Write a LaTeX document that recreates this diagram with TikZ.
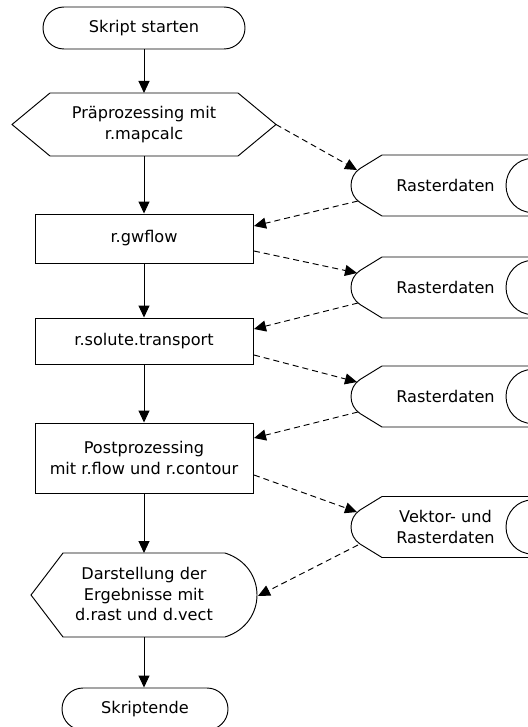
\documentclass[tikz,border=0pt]{standalone}
\usepackage{fontspec}
\setmainfont{DejaVu Sans}
\usetikzlibrary{shapes.misc,arrows.meta}
\newcommand\DataShape[1]{%
  \draw[shp] (545,#1-30.5) -- (382,#1-30.5) -- (360,#1-17) .. controls (348,#1-9) and (348,#1+9) .. (360,#1+17) -- (382,#1+30.5) -- (545,#1+30.5);
  \draw[shp] (532,#1-27) arc[start angle=90,end angle=270,x radius=26bp,y radius=27bp];}
\begin{document}
\begin{tikzpicture}[x=1bp,y=-1bp,
  every node/.style={font=\fontsize{16.2}{20.8}\selectfont},
  shp/.style={line width=0.95bp},
  box/.style={draw,line width=0.95bp,minimum width=218bp,align=center,inner sep=0pt},
  term/.style={draw,rounded rectangle,line width=0.95bp,inner sep=0pt},
  flow/.style={line width=1bp,-{Triangle[length=12bp,width=11bp]}},
  dflow/.style={line width=0.95bp,dash pattern=on 6bp off 4bp,-{Triangle[length=12bp,width=11bp]}}]
\useasboundingbox (0,0) rectangle (528,727);
\clip (0,0) rectangle (528,727);
% main column
\node[term,minimum width=202bp,minimum height=42bp] (start) at (144,28) {Skript starten};
\draw[shp] (12,124.5) -- (50,93) -- (238,93) -- (276,124.5) -- (238,156) -- (50,156) -- cycle;
\node[align=center] (prep) at (144,124.5) {Präprozessing mit\\r.mapcalc};
\coordinate (prepN) at (144,93);
\coordinate (prepS) at (144,156);
\coordinate (prepE) at (276,124.5);
\node[box,minimum height=49bp] (gw) at (144,238.5) {r.gwflow};
\node[box,minimum height=46bp] (sol) at (144,341) {r.solute.transport};
\node[box,minimum height=70bp] (post) at (144,458) {Postprozessing\\mit r.flow und r.contour};
\draw[shp] (31,595) -- (63,553) -- (225,553) .. controls (247,560) and (257,578) .. (257,595) .. controls (257,612) and (247,630) .. (225,637) -- (63,637) -- cycle;
\node[align=center] (disp) at (144,594) {Darstellung der\\Ergebnisse mit\\d.rast und d.vect};
\coordinate (dispN) at (144,553);
\coordinate (dispS) at (144,637);
\coordinate (dispE) at (258,596);
\node[term,minimum width=166bp,minimum height=42bp] (end) at (145,709) {Skriptende};
% data stores
\DataShape{185.5}
\DataShape{287.5}
\DataShape{396.5}
\DataShape{527}
\node (d1) at (445.5,185.5) {Rasterdaten};
\node (d2) at (445.5,287.5) {Rasterdaten};
\node (d3) at (445.5,396.5) {Rasterdaten};
\node[align=center] (d4) at (445.5,527) {Vektor- und\\Rasterdaten};
\coordinate (d1in) at (357,170);   \coordinate (d1out) at (358,201);
\coordinate (d2in) at (357,273);   \coordinate (d2out) at (358,303);
\coordinate (d3in) at (357,382);   \coordinate (d3out) at (358,412);
\coordinate (d4in) at (357,512);   \coordinate (d4out) at (358,545);
\coordinate (gwin) at (254,226);   \coordinate (gwout) at (254,251);
\coordinate (solin) at (254,329);  \coordinate (solout) at (254,355);
\coordinate (postin) at (254,438); \coordinate (postout) at (254,475);
% main flow
\draw[flow] (start.south) -- (prepN);
\draw[flow] (prepS) -- (gw.north);
\draw[flow] (gw.south) -- (sol.north);
\draw[flow] (sol.south) -- (post.north);
\draw[flow] (post.south) -- (dispN);
\draw[flow] (dispS) -- (end.north -| dispS);
% data flow
\draw[dflow] (prepE) -- (d1in);
\draw[dflow] (d1out) -- (gwin);
\draw[dflow] (gwout) -- (d2in);
\draw[dflow] (d2out) -- (solin);
\draw[dflow] (solout) -- (d3in);
\draw[dflow] (d3out) -- (postin);
\draw[dflow] (postout) -- (d4in);
\draw[dflow] (d4out) -- (dispE);
\end{tikzpicture}
\end{document}
